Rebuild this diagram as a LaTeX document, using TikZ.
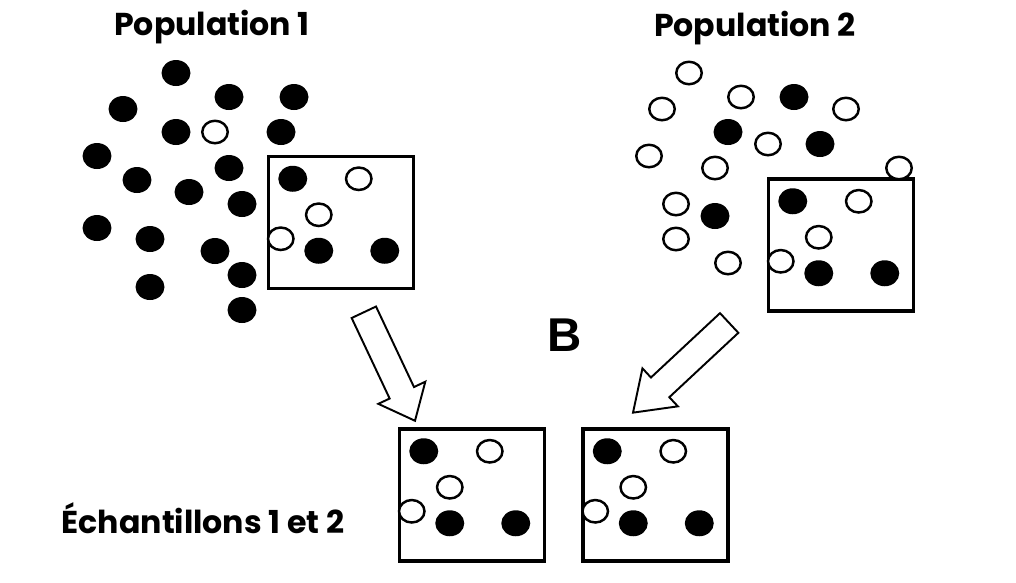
\documentclass[tikz,border=0pt]{standalone}
\usepackage{fontspec}
\setmainfont{Poppins}
\newfontfamily\letterfont{Liberation Sans}
\usetikzlibrary{shapes.arrows, calc}
\tikzset{
  x=0.02cm, y=-0.02cm,
  poptitle/.style={font=\fontsize{18}{21}\selectfont\bfseries, inner sep=0pt},
  sample/.style={draw, line width=2pt, minimum width=2.9cm, minimum height=2.64cm, inner sep=0pt},
  hollow/.style={draw, fill=white, line width=1.4pt},
  blockarrow/.style={
    single arrow, draw, fill=white, line width=1.1pt, inner xsep=0pt, inner ysep=0.25cm,
    single arrow head extend=0.25cm, sloped, allow upside down
  }
}
% the six balls drawn in every sample box
\newcommand{\sampledots}[1]{%
  \foreach \px/\py in {26/24, 52/96, 118/96}
    \fill ($(#1.north west)+(\px,\py)$) ellipse (0.29cm and 0.26cm);
  \foreach \px/\py in {92/24, 52/60, 14/84}
    \filldraw[hollow] ($(#1.north west)+(\px,\py)$) ellipse (0.255cm and 0.225cm);
}

\begin{document}
\begin{tikzpicture}
  \useasboundingbox (0,0) rectangle (1016,582);

  % titles
  \node[poptitle] (title1) at (212,27) {Population 1};
  \node[poptitle] (title2) at (755,28) {Population 2};
  \node[poptitle] (samplelabel) at (203,518) {Échantillons 1 et 2};
  \node[font=\letterfont\fontsize{27}{30}\selectfont\bfseries] (letter) at (565,335) {B};

  % population 1
  \foreach \px/\py in {176/73, 123/109, 229/97, 294/97, 176/132, 281/132, 97/156,
      229/168, 137/180, 189/192, 242/204, 97/228, 150/239, 215/251, 242/275,
      150/287, 242/310}
    \fill (\px,\py) ellipse (0.29cm and 0.26cm);
  \filldraw[hollow] (215,132) ellipse (0.255cm and 0.225cm);
  \node[sample] (box1) at (341,222.5) {};
  \sampledots{box1}

  % population 2
  \foreach \px/\py in {794/97, 728/132, 820/144, 715/216}
    \fill (\px,\py) ellipse (0.29cm and 0.26cm);
  \node[sample] (box2) at (841,245) {};
  \foreach \px/\py in {689/73, 741/97, 662/109, 846/109, 768/144, 649/156,
      715/168, 899/168, 676/204, 676/239, 728/263}
    \filldraw[hollow] (\px,\py) ellipse (0.255cm and 0.225cm);
  \sampledots{box2}

  % samples
  \node[sample] (sampleA) at (472,495) {};
  \node[sample] (sampleB) at (655.5,495) {};
  \sampledots{sampleA}
  \sampledots{sampleB}

  % arrows
  \coordinate (tail1) at ($(box1.south)+(20,16)$);
  \coordinate (tip1) at ($(sampleA.north)+(-61,-15)$);
  \coordinate (tail2) at ($(box2.south west)+(-32.5,5.5)$);
  \coordinate (tip2) at ($(sampleB.north)+(-13.5,-23)$);
  \path (tail1) -- (tip1) node[blockarrow, midway, minimum height=2.4cm, single arrow tip angle=80] (arrow1) {};
  \path (tail2) -- (tip2) node[blockarrow, midway, minimum height=2.63cm, single arrow tip angle=70] (arrow2) {};
\end{tikzpicture}
\end{document}
